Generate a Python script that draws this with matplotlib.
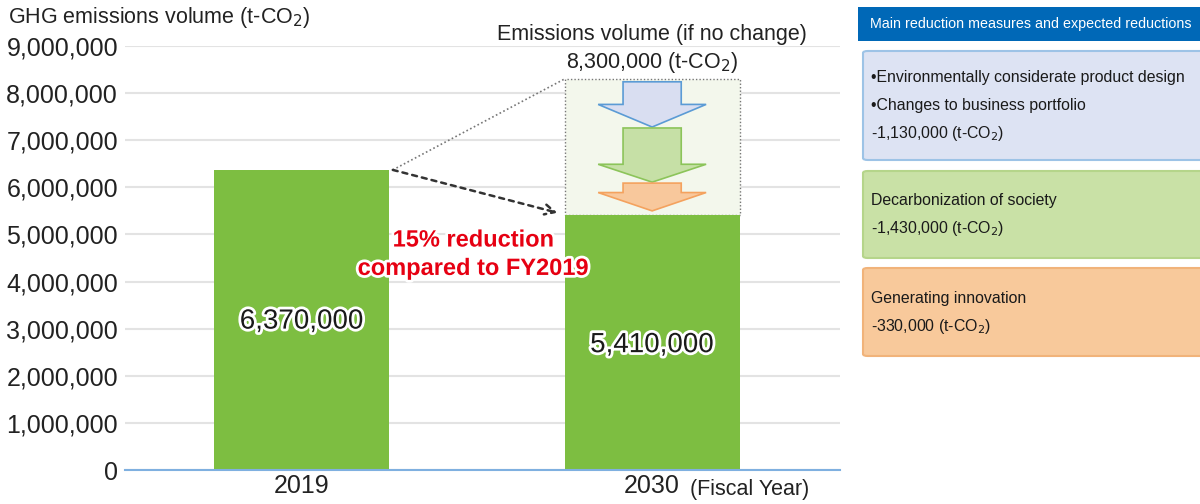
import matplotlib
matplotlib.use("Agg")
import matplotlib.pyplot as plt
import matplotlib.patheffects as pe
from matplotlib.patches import Rectangle, Polygon, FancyBboxPatch
import numpy as np

plt.rcParams["font.family"] = ["Liberation Sans", "DejaVu Sans"]

# data
years = ["2019", "2030"]
emissions = [6370000, 5410000]
no_change = 8300000
measures = [
    ["\u2022Environmentally considerate product design", "\u2022Changes to business portfolio"],
    ["Decarbonization of society"],
    ["Generating innovation"],
]
reductions = [1130000, 1430000, 330000]
yticks = np.arange(0, 9000001, 1000000)

W, H = 1200, 504
fig = plt.figure(figsize=(W / 100, H / 100), dpi=100)


def fx(px):
    return px / W


def fy(py):
    return 1 - py / H


ax = fig.add_axes([fx(125), fy(470), fx(840) - fx(125), fy(46) - fy(470)])
x = np.arange(len(years))
bar_w = 0.5
green = "#7dbe41"
ax.bar(x, emissions, width=bar_w, color=green, zorder=3)
ax.set_xlim(-0.504, 1.536)
ax.set_ylim(0, 9000000)
ax.set_yticks(yticks)
ax.set_yticklabels([f"{v:,}" for v in yticks], fontsize=18, color="#222222")
ax.set_xticks(x)
ax.set_xticklabels(years, fontsize=18, color="#222222")
ax.tick_params(length=0, pad=5)
ax.tick_params(axis="x", pad=3)
ax.yaxis.grid(True, color="#e3e3e3", lw=1.5, zorder=0)
for s in ["top", "right", "left"]:
    ax.spines[s].set_visible(False)
ax.spines["bottom"].set_color("#7fb0e0")
ax.spines["bottom"].set_linewidth(1.5)
ax.spines["bottom"].set_zorder(4)

# value labels
label_y = [3150000, 2650000]
for xi, v, ly in zip(x, emissions, label_y):
    ax.text(xi, ly, f"{v:,}", ha="center", va="center", fontsize=20,
            color="#1a1a1a", zorder=5,
            path_effects=[pe.withStroke(linewidth=4, foreground="white")])

# "if no change" dotted box
x2 = x[1]
ax.add_patch(Rectangle((x2 - bar_w / 2, emissions[1]), bar_w, no_change - emissions[1],
                       facecolor="#f3f7ec", edgecolor="#777777", ls=(0, (1, 1.5)), lw=1, zorder=2))

# reduction arrows (top, tip in data units)
arrow_spans = [(8240000, 7280000), (7260000, 6110000), (6090000, 5500000)]
arrow_styles = [("#d9def1", "#5b9bd5"), ("#c6e0a6", "#8cc45a"), ("#f8c89c", "#f4a25e")]
head_frac = [0.5, 0.33, 0.66]
shaft_hw = 0.083
head_hw = 0.154
for (top, tip), (fc, ec), hf in zip(arrow_spans, arrow_styles, head_frac):
    hstart = tip + (top - tip) * hf
    pts = [(x2 - shaft_hw, top), (x2 + shaft_hw, top), (x2 + shaft_hw, hstart),
           (x2 + head_hw, hstart), (x2, tip), (x2 - head_hw, hstart), (x2 - shaft_hw, hstart)]
    ax.add_patch(Polygon(pts, closed=True, facecolor=fc, edgecolor=ec, lw=1.2, zorder=4))

ax.text(x2, 9240000, "Emissions volume (if no change)", ha="center", va="center", fontsize=15.5,
        color="#222222", clip_on=False)
ax.text(x2, 8660000, "8,300,000 (t-CO$_2$)", ha="center", va="center", fontsize=15.5,
        color="#222222", clip_on=False)

# connector lines
x0r = x[0] + bar_w / 2 + 0.01
ax.plot([x0r, x2 - bar_w / 2], [emissions[0], no_change], color="#777777", lw=1.2,
        ls=(0, (1, 1.5)), zorder=3)
ax.annotate("", xy=(x2 - bar_w / 2 - 0.02, emissions[1] + 50000), xytext=(x0r, emissions[0]),
            arrowprops=dict(arrowstyle="->", color="#333333", lw=1.8, ls=(0, (2, 2)),
                            mutation_scale=18, shrinkA=0, shrinkB=0), zorder=4)

ax.text(0.49, 4580000, "15% reduction\ncompared to FY2019", ha="center", va="center",
        fontsize=17, fontweight="bold", color="#e60012", linespacing=1.3, zorder=6,
        path_effects=[pe.withStroke(linewidth=4, foreground="white")])

# axis titles
fig.text(fx(8), fy(18), "GHG emissions volume (t-CO$_2$)", ha="left", va="center", fontsize=15.5, color="#222222")
fig.text(fx(690), fy(490), "(Fiscal Year)", ha="left", va="center", fontsize=15.5, color="#222222")

# right panel
fig.patches.append(Rectangle((fx(858), fy(41)), fx(1200) - fx(858), fy(7) - fy(41),
                             transform=fig.transFigure, facecolor="#0068b7", edgecolor="none"))
fig.text(fx(870), fy(24), "Main reduction measures and expected reductions", ha="left", va="center",
         fontsize=10.3, color="white")

boxes = [(51, 160, "#dde3f3", "#9dc3e6"), (171, 258, "#c9e1a6", "#b5d58a"), (268, 356, "#f8c99b", "#f1b37a")]
line_gap = 28
for (top, bot, fc, ec), lines, red in zip(boxes, measures, reductions):
    fig.patches.append(FancyBboxPatch((fx(863), fy(bot)), fx(1210) - fx(863), fy(top) - fy(bot),
                                      boxstyle="round,pad=0,rounding_size=0.004",
                                      transform=fig.transFigure, facecolor=fc, edgecolor=ec, lw=1.5))
    texts = lines + [f"-{red:,} (t-CO$_2$)"]
    n = len(texts)
    mid = (top + bot) / 2
    for i, t in enumerate(texts):
        yy = mid + (i - (n - 1) / 2) * line_gap
        fig.text(fx(871), fy(yy), t, ha="left", va="center", fontsize=11.4, color="#1a1a1a")

fig.savefig("out.png", dpi=100)
